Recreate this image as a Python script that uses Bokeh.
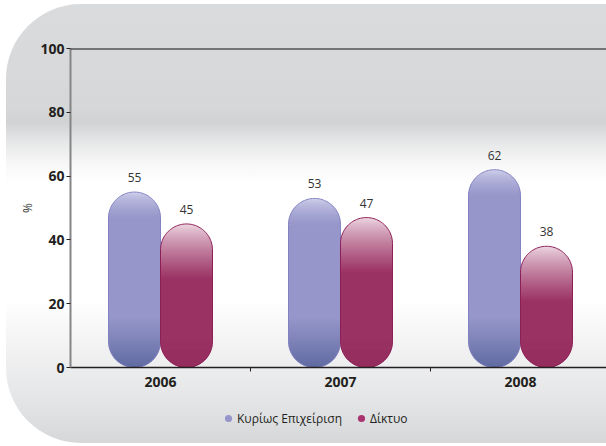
import numpy as np
from bokeh.plotting import figure
from bokeh.layouts import column
from bokeh.models import (FixedTicker, Span, Legend, LegendItem, LabelSet,
                          ColumnDataSource, Range1d)
from bokeh.core.properties import value
from bokeh.embed import file_html
from bokeh.resources import INLINE

# ---------------- data ----------------
years = ["2006", "2007", "2008"]
core_share = [55, 53, 62]        # Κυρίως Επιχείριση
network_share = [45, 47, 38]     # Δίκτυο
series_names = ["Κυρίως Επιχείριση", "Δίκτυο"]
series_colors = ["#9696cc", "#a8336e"]
y_ticks = [0, 20, 40, 60, 80, 100]

# ---------------- layout ----------------
W, H = 600, 404
LEG_H = 35
BL, BT, BB, BR = 64, 44, 41, 0
frame_w = W - BL - BR
frame_h = H - BT - BB
cat_px = 180.0
x_end = frame_w / cat_px
px_x = cat_px
px_y = frame_h / 100.0

bar_px = 52.0
w = (bar_px / 2) / px_x          # half width in x units
ry = (bar_px / 2) / px_y         # cap radius in y units

FONT = "Open Sans"
DARK = "#231f20"

p = figure(width=W, height=H, x_range=Range1d(0, x_end), y_range=Range1d(0, 100),
           output_backend="svg", toolbar_location=None,
           min_border_left=BL, min_border_top=BT, min_border_bottom=BB,
           min_border_right=BR)
p.background_fill_color = None
p.border_fill_color = None
p.outline_line_color = None
p.grid.visible = False


def mix(c1, c2, t):
    t = max(0.0, min(1.0, t))
    return tuple(int(round(a + (b - a) * t)) for a, b in zip(c1, c2))


def hexc(c):
    return "#%02x%02x%02x" % c


def blue_color(d_top, d_bot):
    base = (150, 150, 202)
    c = mix((216, 216, 240), base, (d_top / 26.0) ** 0.55)
    c = mix((94, 106, 160), c, (d_bot / 50.0) ** 0.9)
    return c


def red_color(d_top, d_bot):
    base = (155, 50, 100)
    c = mix((238, 218, 228), base, (d_top / 55.0) ** 0.8)
    c = mix((148, 44, 94), c, d_bot / 30.0)
    return c


def half_width(y, T):
    if y > T - ry:
        dy = (y - (T - ry)) / ry
        return w * np.sqrt(max(0.0, 1 - dy * dy))
    if y < ry:
        dy = (ry - y) / ry
        return w * np.sqrt(max(0.0, 1 - dy * dy))
    return w


strip_xs, strip_ys, strip_col = [], [], []
out_xs, out_ys, out_col = [], [], []
lab_x, lab_y, lab_t = [], [], []

series = [(core_share, -w, blue_color, "#8282c2"),
          (network_share, w, red_color, "#8c1f56")]

for i, yr in enumerate(years):
    xc_cat = i + 0.5
    for vals, off, cfun, lcol in series:
        T = float(vals[i])
        xc = xc_cat + off
        step = 1.0 / px_y
        n = int(np.ceil(T / step))
        for k in range(n):
            y0 = k * step
            y1 = min(T, (k + 1) * step)
            y1e = min(T, y1 + 0.6 * step)
            ys_s = [y0, (y0 + y1e) / 2, y1e]
            hws = [half_width(yy, T) for yy in ys_s]
            strip_xs.append([xc - h for h in hws] + [xc + h for h in reversed(hws)])
            strip_ys.append(ys_s + ys_s[::-1])
            ym = (y0 + y1) / 2
            strip_col.append(hexc(cfun((T - ym) * px_y, ym * px_y)))
        th_top = np.linspace(0, np.pi, 60)
        th_bot = np.linspace(np.pi, 2 * np.pi, 60)
        ox = list(xc + w * np.cos(th_top)) + list(xc + w * np.cos(th_bot))
        oy = list(T - ry + ry * np.sin(th_top)) + list(ry + ry * np.sin(th_bot))
        out_xs.append(ox + [ox[0]])
        out_ys.append(oy + [oy[0]])
        out_col.append(lcol)
        lab_x.append(xc)
        lab_y.append(T)
        lab_t.append(str(vals[i]))

p.patches(xs=strip_xs, ys=strip_ys, fill_color=strip_col, line_color=None)
p.patches(xs=out_xs, ys=out_ys, fill_color=None, line_color=out_col, line_width=1)

labels = LabelSet(source=ColumnDataSource(dict(x=lab_x, y=lab_y, t=lab_t)),
                  x="x", y="y", text="t", text_align="center",
                  text_baseline="alphabetic", y_offset=10,
                  text_font=value(FONT), text_font_size=value("12px"),
                  text_color="#333333")
p.add_layout(labels)

p.add_layout(Span(location=100, dimension="width", line_color="#111111", line_width=2))

# y axis
p.yaxis.ticker = FixedTicker(ticks=y_ticks)
p.yaxis.major_label_text_font = FONT
p.yaxis.major_label_text_font_style = "bold"
p.yaxis.major_label_text_font_size = "14px"
p.yaxis.major_label_text_color = DARK
p.yaxis.axis_line_color = "#858585"
p.yaxis.axis_line_width = 2
p.yaxis.major_tick_out = 4
p.yaxis.major_tick_in = 0
p.yaxis.major_tick_line_color = DARK
p.yaxis.minor_tick_line_color = None
p.yaxis.major_label_standoff = 2
p.yaxis.axis_label = "%"
p.yaxis.axis_label_text_font = FONT
p.yaxis.axis_label_text_font_style = "normal"
p.yaxis.axis_label_text_font_size = "12px"
p.yaxis.axis_label_text_color = "#333333"
p.yaxis.axis_label_standoff = 1

# x axis
centers = [i + 0.5 for i in range(len(years))]
p.xaxis.ticker = FixedTicker(ticks=centers, minor_ticks=[1, 2])
p.xaxis.major_label_overrides = {c: y for c, y in zip(centers, years)}
p.xaxis.major_tick_out = 0
p.xaxis.major_tick_in = 0
p.xaxis.minor_tick_out = 4
p.xaxis.minor_tick_in = 0
p.xaxis.minor_tick_line_color = DARK
p.xaxis.axis_line_color = DARK
p.xaxis.axis_line_width = 1.5
p.xaxis.major_label_text_font = FONT
p.xaxis.major_label_text_font_style = "bold"
p.xaxis.major_label_text_font_size = "14px"
p.xaxis.major_label_text_color = DARK
p.xaxis.major_label_standoff = 5

# legend (separate strip below the chart)
lg = figure(width=W, height=LEG_H, x_range=Range1d(0, 1), y_range=Range1d(0, 1),
            output_backend="svg", toolbar_location=None,
            x_axis_location=None, y_axis_location=None,
            min_border=0)
lg.background_fill_color = None
lg.border_fill_color = None
lg.outline_line_color = None
lg.grid.visible = False
r1 = lg.scatter(x=[np.nan], y=[np.nan], marker="circle", size=8,
                fill_color=series_colors[0], line_color=None)
r2 = lg.scatter(x=[np.nan], y=[np.nan], marker="circle", size=8,
                fill_color=series_colors[1], line_color=None)
legend = Legend(items=[LegendItem(label=series_names[0], renderers=[r1]),
                       LegendItem(label=series_names[1], renderers=[r2])],
                orientation="horizontal", location=(149, 16),
                glyph_width=18, glyph_height=18, label_height=14,
                label_standoff=0, spacing=10, padding=4, margin=0,
                label_text_font=FONT, label_text_font_size="12px",
                label_text_color=DARK,
                background_fill_alpha=0, border_line_color=None)
lg.add_layout(legend, "center")

layout = column(p, lg, spacing=0)
layout.styles = {
    "background": ("linear-gradient(to bottom, #dadbdd 0px, #d6d7d9 104px, "
                   "#d1d2d4 118px, #e4e5e6 136px, #f7f7f7 159px, #ffffff 179px, "
                   "#ffffff 296px, #f3f3f4 339px, #e4e5e6 396px, #d6d7d9 439px)"),
    "border-radius": "75px 0 0 75px",
    "margin": "4px 0 0 6px",
}

open("out.html", "w").write(file_html(layout, INLINE))
